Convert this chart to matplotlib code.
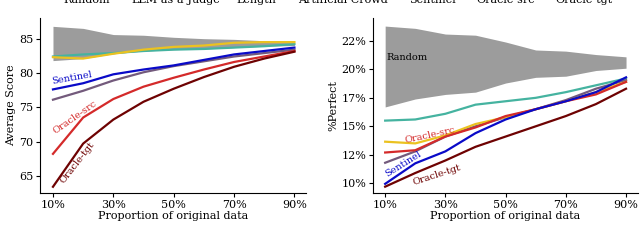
"""
Average Score and %Perfect against the proportion of original data kept,
for several data selection methods.
"""

import matplotlib
matplotlib.use("Agg")
import matplotlib.pyplot as plt

PLOT_FILE = "out.png"

# x axis: proportion of original data (%)
PROPORTIONS = [10, 20, 30, 40, 50, 60, 70, 80, 90]
X_TICKS = [10, 30, 50, 70, 90]
X_TICK_LABELS = ["10%", "30%", "50%", "70%", "90%"]

# Left panel: Average Score
SCORE_RANDOM_LOW = [81.8, 82.1, 82.8, 83.2, 83.4, 83.5, 83.7, 83.9, 84.0]
SCORE_RANDOM_HIGH = [86.8, 86.5, 85.6, 85.5, 85.2, 85.0, 84.9, 84.7, 84.5]
SCORE_LLM_JUDGE = [82.4, 82.7, 82.9, 83.2, 83.4, 83.5, 83.7, 83.9, 84.2]
SCORE_LENGTH = [82.3, 82.1, 82.8, 83.4, 83.8, 84.0, 84.4, 84.5, 84.5]
SCORE_CROWD = [76.1, 77.4, 78.9, 80.1, 81.0, 81.7, 82.4, 82.9, 83.4]
SCORE_SENTINEL = [77.6, 78.5, 79.8, 80.5, 81.1, 81.9, 82.7, 83.2, 83.7]
SCORE_ORACLE_SRC = [68.2, 73.5, 76.2, 78.0, 79.3, 80.5, 81.6, 82.4, 83.2]
SCORE_ORACLE_TGT = [63.4, 69.7, 73.2, 75.8, 77.7, 79.4, 80.9, 82.1, 83.1]
SCORE_TICKS = [65, 70, 75, 80, 85]

# Right panel: %Perfect
PERFECT_RANDOM_LOW = [16.7, 17.4, 17.8, 18.0, 18.8, 19.3, 19.4, 19.9, 20.1]
PERFECT_RANDOM_HIGH = [23.8, 23.6, 23.1, 23.0, 22.4, 21.7, 21.6, 21.3, 21.1]
PERFECT_LLM_JUDGE = [15.5, 15.6, 16.1, 16.9, 17.2, 17.5, 18.0, 18.6, 19.2]
PERFECT_LENGTH = [13.65, 13.5, 14.2, 15.2, 15.8, 16.5, 17.2, 18.0, 18.9]
PERFECT_CROWD = [11.8, 12.8, 14.1, 15.0, 15.8, 16.5, 17.3, 18.3, 19.05]
PERFECT_SENTINEL = [9.95, 11.75, 12.8, 14.4, 15.6, 16.5, 17.2, 18.0, 19.3]
PERFECT_ORACLE_SRC = [12.7, 12.9, 14.1, 14.9, 15.9, 16.5, 17.2, 17.8, 18.9]
PERFECT_ORACLE_TGT = [9.7, 10.9, 12.0, 13.2, 14.1, 15.0, 15.9, 16.95, 18.3]
PERFECT_TICKS = [10, 12.5, 15, 17.5, 20, 22.5]
PERFECT_TICK_LABELS = ["10%", "12%", "15%", "17%", "20%", "22%"]

LEGEND_NAMES = ["Random", "LLM-as-a-Judge", "Length", "Artificial Crowd",
                "Sentinel", "Oracle-src", "Oracle-tgt"]

# Colours
RANDOM_COLOR = "#9c9c9c"
JUDGE_COLOR = "#45b3a0"
LENGTH_COLOR = "#ebc220"
CROWD_COLOR = "#735a7c"
SENTINEL_COLOR = "#0a0ac8"
SRC_COLOR = "#d42a2a"
TGT_COLOR = "#6e0202"

plt.rcParams["font.family"] = "DejaVu Serif"
plt.rcParams["font.size"] = 8

H = 248  # figure height in pixels, for placing the inline labels


def draw_panel(ax, low, high, judge, length, crowd, sentinel, src, tgt):
    """Draws the band and the method lines of one panel."""
    ax.fill_between(PROPORTIONS, low, high, color=RANDOM_COLOR, lw=0, zorder=1)
    ax.plot(PROPORTIONS, judge, color=JUDGE_COLOR, lw=1.6, zorder=2)
    ax.plot(PROPORTIONS, crowd, color=CROWD_COLOR, lw=1.6, zorder=2)
    ax.plot(PROPORTIONS, length, color=LENGTH_COLOR, lw=1.6, zorder=3)
    ax.plot(PROPORTIONS, src, color=SRC_COLOR, lw=1.6, zorder=4)
    ax.plot(PROPORTIONS, sentinel, color=SENTINEL_COLOR, lw=1.6, zorder=4)
    ax.plot(PROPORTIONS, tgt, color=TGT_COLOR, lw=1.6, zorder=4)
    ax.spines["top"].set_visible(False)
    ax.spines["right"].set_visible(False)
    ax.set_xticks(X_TICKS)
    ax.set_xticklabels(X_TICK_LABELS)
    ax.set_xlabel("Proportion of original data", labelpad=1)
    ax.tick_params(length=3, pad=2)


def label(ax, text, x, y, color, rotation=0, ha="center"):
    """Puts an inline label at (x, y) pixels from the top-left corner."""
    ax.annotate(text, xy=(x, H - y), xycoords="figure pixels", fontsize=7,
                color=color, rotation=rotation, ha=ha, va="center",
                rotation_mode="anchor")


fig = plt.figure(figsize=(6.4, 2.48), dpi=100)
ax1 = fig.add_axes([0.0625, 0.222, 0.415, 0.705])
ax2 = fig.add_axes([0.583, 0.222, 0.414, 0.705])

draw_panel(ax1, SCORE_RANDOM_LOW, SCORE_RANDOM_HIGH, SCORE_LLM_JUDGE,
           SCORE_LENGTH, SCORE_CROWD, SCORE_SENTINEL, SCORE_ORACLE_SRC,
           SCORE_ORACLE_TGT)
ax1.set_xlim(5.7, 93.7)
ax1.set_ylim(62.5, 88)
ax1.set_yticks(SCORE_TICKS)
ax1.set_ylabel("Average Score", labelpad=2)
label(ax1, "Sentinel", 72, 78, SENTINEL_COLOR, rotation=10)
label(ax1, "Oracle-src", 75, 117, SRC_COLOR, rotation=35)
label(ax1, "Oracle-tgt", 77, 163, TGT_COLOR, rotation=52)

draw_panel(ax2, PERFECT_RANDOM_LOW, PERFECT_RANDOM_HIGH, PERFECT_LLM_JUDGE,
           PERFECT_LENGTH, PERFECT_CROWD, PERFECT_SENTINEL, PERFECT_ORACLE_SRC,
           PERFECT_ORACLE_TGT)
ax2.set_xlim(6.0, 94.0)
ax2.set_ylim(9.15, 24.5)
ax2.set_yticks(PERFECT_TICKS)
ax2.set_yticklabels(PERFECT_TICK_LABELS)
ax2.set_ylabel("%Perfect", labelpad=2)
label(ax2, "Random", 386, 58, "black", ha="left")
label(ax2, "Oracle-src", 430, 135, SRC_COLOR, rotation=12)
label(ax2, "Sentinel", 403, 164, SENTINEL_COLOR, rotation=32)
label(ax2, "Oracle-tgt", 437, 175, TGT_COLOR, rotation=18)

# Legend row, cut off at the top edge of the picture
legend_x = [63, 131, 236, 298, 409, 476, 555]
for name, x in zip(LEGEND_NAMES, legend_x):
    fig.text(x / 640, 1 - 3 / H, name, ha="left", va="baseline", fontsize=8)

fig.savefig(PLOT_FILE, dpi=100)
